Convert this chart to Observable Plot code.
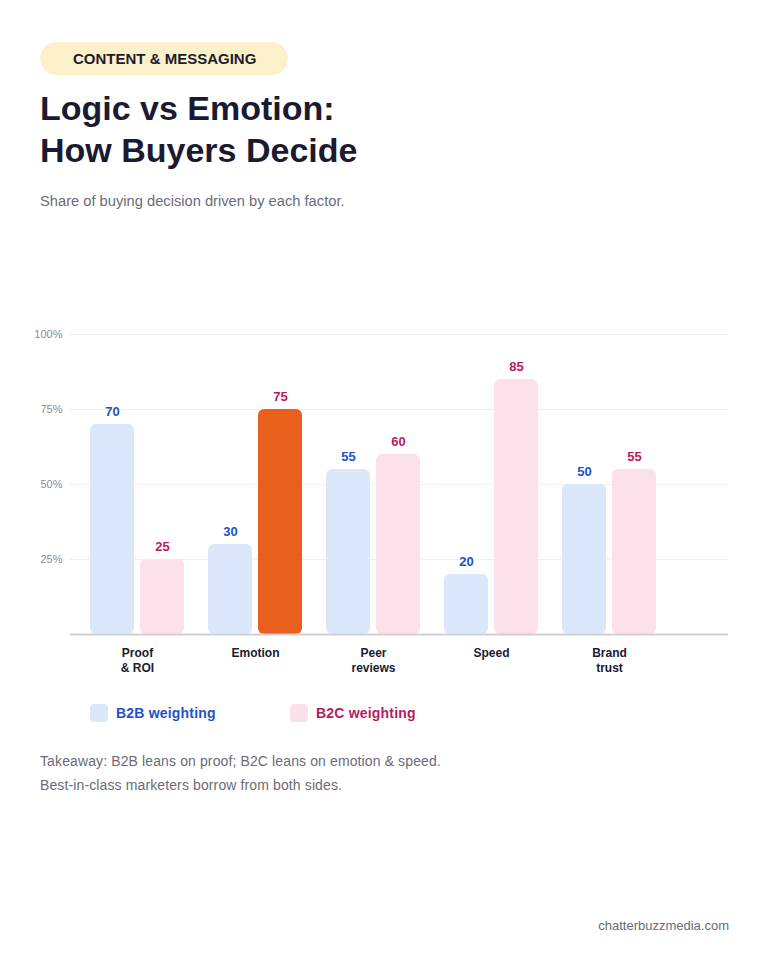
<!DOCTYPE html>
<html>
<head>
<meta charset="utf-8">
<script src="https://cdn.jsdelivr.net/npm/d3@7"></script>
<script src="https://cdn.jsdelivr.net/npm/@observablehq/plot@0.6"></script>
<style>
  html, body { margin: 0; padding: 0; background: #fff; }
  body { width: 768px; height: 960px; position: relative; font-family: "Liberation Sans", Arial, Helvetica, sans-serif; overflow: hidden; }
  .badge { position: absolute; left: 40px; top: 42px; height: 33px; line-height: 33px; padding: 0 32px 0 33px; background: #fdf1cb; border-radius: 17px; font-weight: 700; font-size: 15px; color: #1c1c2b; }
  h1 { position: absolute; left: 40px; top: 87px; margin: 0; font-size: 34px; line-height: 42px; font-weight: 700; color: #1b1a33; }
  .sub { position: absolute; left: 40px; top: 193px; font-size: 14.7px; color: #6b6b78; }
  #chart { position: absolute; left: 0; top: 300px; }
  .legend { position: absolute; top: 704px; font-size: 14px; font-weight: 700; display: flex; align-items: center; letter-spacing: 0.2px; }
  .legend .sw { width: 18px; height: 18px; border-radius: 4px; margin-right: 8px; }
  .take { position: absolute; left: 40px; top: 749px; font-size: 14px; line-height: 24px; color: #6b6b78; letter-spacing: 0.12px; }
  .foot { position: absolute; right: 39px; top: 918px; font-size: 13px; color: #6b6b78; }
</style>
</head>
<body>
<div class="badge">CONTENT &amp; MESSAGING</div>
<h1>Logic vs Emotion:<br>How Buyers Decide</h1>
<div class="sub">Share of buying decision driven by each factor.</div>
<div id="chart"></div>
<div class="legend" style="left:90px;color:#2451c4"><div class="sw" style="background:#dbe8fb"></div>B2B weighting</div>
<div class="legend" style="left:290px;color:#b51c5f"><div class="sw" style="background:#fce0ea"></div>B2C weighting</div>
<div class="take">Takeaway: B2B leans on proof; B2C leans on emotion &amp; speed.<br>Best-in-class marketers borrow from both sides.</div>
<div class="foot">chatterbuzzmedia.com</div>
<script>
const categories = ["Proof & ROI", "Emotion", "Peer reviews", "Speed", "Brand trust"];
const tickLabels = ["Proof\n& ROI", "Emotion", "Peer\nreviews", "Speed", "Brand\ntrust"];
const b2b = [70, 30, 55, 20, 50];
const b2c = [25, 75, 60, 85, 55];
const highlight = "Emotion";
const yTicks = [25, 50, 75, 100];

const rowsB2B = categories.map((c, i) => ({cat: c, value: b2b[i]}));
const rowsB2C = categories.map((c, i) => ({cat: c, value: b2c[i]}));

const blue = "#2451c4", magenta = "#b51c5f";
const barW = 44, groupW = 94, off = groupW - barW;

const chart = Plot.plot({
  width: 768,
  height: 400,
  marginTop: 34,
  marginBottom: 66,
  marginLeft: 70,
  marginRight: 40,
  style: {fontFamily: "Liberation Sans, Arial, sans-serif", background: "transparent"},
  x: {domain: categories, range: [90, 656], paddingInner: 24 / 118, paddingOuter: 0, align: 0.5},
  y: {domain: [0, 100]},
  marks: [
    Plot.ruleY(yTicks, {stroke: "#f0f0f2", strokeWidth: 1}),
    Plot.axisY({ticks: yTicks, tickFormat: d => d + "%", tickSize: 0, tickPadding: 8, fontSize: 11, color: "#8a8a94", label: null}),
    Plot.barY(rowsB2B, {x: "cat", y: "value", fill: "#dbe8fb", insetRight: off, rx: 6}),
    Plot.barY(rowsB2C, {x: "cat", y: "value", fill: d => d.cat === highlight ? "#e8601c" : "#fce0ea", insetLeft: off, rx: 6}),
    Plot.text(rowsB2B, {x: "cat", y: "value", text: d => String(d.value), dx: -(off / 2), dy: -13, fill: blue, fontWeight: 700, fontSize: 13}),
    Plot.text(rowsB2C, {x: "cat", y: "value", text: d => String(d.value), dx: off / 2, dy: -13, fill: magenta, fontWeight: 700, fontSize: 13}),
    Plot.ruleY([0], {stroke: "#cfcfd4", strokeWidth: 2}),
    Plot.axisX({tickSize: 0, tickPadding: 11, tickFormat: c => tickLabels[categories.indexOf(c)], fontSize: 12, fontWeight: 700, color: "#1b1a33", label: null, lineHeight: 1.3})
  ]
});
document.getElementById("chart").appendChild(chart);
</script>
</body>
</html>
